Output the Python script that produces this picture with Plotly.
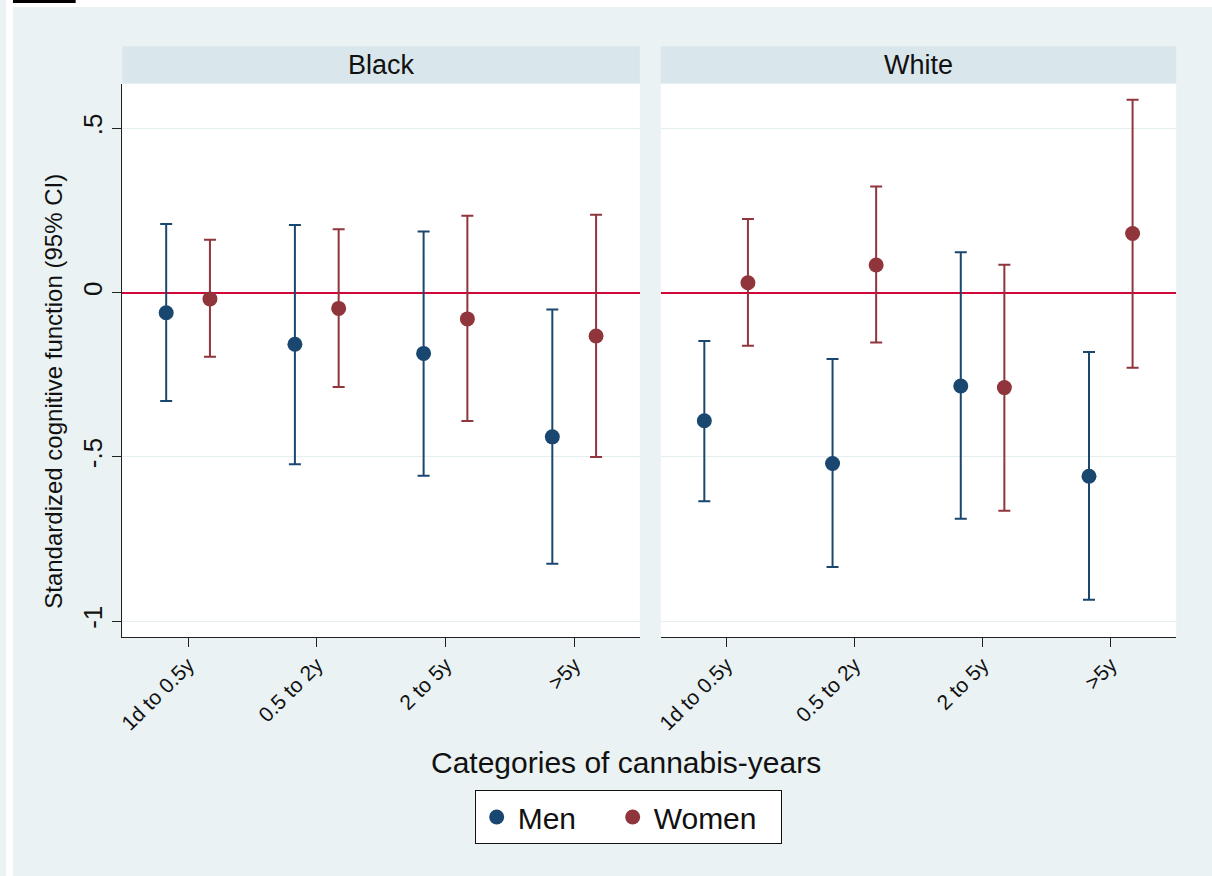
import plotly.graph_objects as go

W, H = 1212, 876

categories = ["1d to 0.5y", "0.5 to 2y", "2 to 5y", ">5y"]
panels = ["Black", "White"]

black_men = [-0.061, -0.157, -0.185, -0.439]
black_men_lo = [-0.330, -0.522, -0.557, -0.825]
black_men_hi = [0.209, 0.206, 0.186, -0.051]
black_women = [-0.019, -0.048, -0.080, -0.132]
black_women_lo = [-0.195, -0.287, -0.391, -0.500]
black_women_hi = [0.161, 0.193, 0.234, 0.237]

white_men = [-0.390, -0.520, -0.284, -0.559]
white_men_lo = [-0.635, -0.835, -0.688, -0.935]
white_men_hi = [-0.147, -0.202, 0.123, -0.181]
white_women = [0.030, 0.084, -0.289, 0.180]
white_women_lo = [-0.162, -0.152, -0.664, -0.229]
white_women_hi = [0.224, 0.323, 0.085, 0.587]

ytick_vals = [-1, -0.5, 0, 0.5]
ytick_text = ["-1", "-.5", "0", ".5"]

MEN = "#1a476f"
WOMEN = "#90353b"
BG = "#eaf2f3"
STRIP = "#d9e6eb"
GRID = "#e4edf0"
REFLINE = "#d1073a"
FONT = "Liberation Sans, Arial, sans-serif"


def px(x):
    return x / W


def py(y):
    return 1 - y / H


x_positions = list(range(1, len(categories) + 1))
OFF = 0.17

fig = go.Figure()

series = [
    ("x", "y", black_men, black_men_lo, black_men_hi, -OFF, MEN, "Men", True, 89),
    ("x", "y", black_women, black_women_lo, black_women_hi, OFF, WOMEN, "Women", True, 122),
    ("x2", "y2", white_men, white_men_lo, white_men_hi, -OFF, MEN, "Men", False, None),
    ("x2", "y2", white_women, white_women_lo, white_women_hi, OFF, WOMEN, "Women", False, None),
]
for xa, ya, est, lo, hi, off, col, name, show, lw in series:
    tr = dict(
        x=[p + off for p in x_positions], y=est,
        xaxis=xa, yaxis=ya, mode="markers", name=name, showlegend=show,
        marker=dict(color=col, size=15, line=dict(width=0)),
        error_y=dict(type="data", symmetric=False,
                     array=[h - e for h, e in zip(hi, est)],
                     arrayminus=[e - l for e, l in zip(est, lo)],
                     color=col, thickness=2, width=6),
    )
    if lw:
        tr["legendwidth"] = lw
    fig.add_trace(go.Scatter(**tr))

# panel geometry (px)
bx0, bx1 = 117, 637
wx0, wx1 = 658, 1176
ytop, ybot = 83.5, 637.3
strip_top = 46.3

common_x = dict(
    range=[0.49, 4.51], tickmode="array", tickvals=x_positions, ticktext=categories,
    tickangle=-45, ticks="outside", ticklen=9, tickcolor="#222", tickwidth=1.3,
    showline=True, linecolor="#222", linewidth=1.3, showgrid=False, zeroline=False,
    tickfont=dict(family=FONT, size=21, color="#111"), ticklabelstandoff=-3,
)
common_y = dict(
    domain=[py(ybot), py(ytop)], range=[-1.049, 0.6365],
    tickmode="array", tickvals=ytick_vals,
    showgrid=True, gridcolor=GRID, gridwidth=1.3,
    zeroline=True, zerolinecolor=REFLINE, zerolinewidth=2,
)
fig.update_layout(
    width=W, height=H,
    margin=dict(l=0, r=0, t=0, b=0),
    paper_bgcolor=BG, plot_bgcolor="white",
    font=dict(family=FONT, color="#111"),
    xaxis=dict(domain=[px(bx0), px(bx1)], anchor="y", **common_x),
    xaxis2=dict(domain=[px(wx0), px(wx1)], anchor="y2", **common_x),
    yaxis=dict(anchor="x", ticktext=ytick_text,
               tickangle=-90, ticks="outside", ticklen=9, tickcolor="#222", tickwidth=1.3,
               showline=True, linecolor="#222", linewidth=1.3,
               tickfont=dict(family=FONT, size=26, color="#111"), **common_y),
    yaxis2=dict(anchor="x2", showticklabels=False, ticks="", showline=False, **common_y),
    legend=dict(orientation="h", x=px(471), xanchor="left", y=py(790), yanchor="top",
                bgcolor="white", bordercolor="#111", borderwidth=1,
                itemwidth=32,
                font=dict(family=FONT, size=30, color="#111")),
    showlegend=True,
)

shapes = []
# white page margin at top/left and black mark at top-left
shapes.append(dict(type="rect", xref="paper", yref="paper", x0=0, x1=1, y0=py(7), y1=1,
                   fillcolor="white", line=dict(width=0), layer="below"))
shapes.append(dict(type="rect", xref="paper", yref="paper", x0=0, x1=px(7), y0=0, y1=1,
                   fillcolor="white", line=dict(width=0), layer="below"))
shapes.append(dict(type="rect", xref="paper", yref="paper", x0=px(7), x1=px(70), y0=py(3), y1=1,
                   fillcolor="black", line=dict(width=0), layer="below"))
# strips
for (x0, x1) in [(bx0, bx1), (wx0, wx1)]:
    shapes.append(dict(type="rect", xref="paper", yref="paper", x0=px(x0), x1=px(x1),
                       y0=py(ytop), y1=py(strip_top), fillcolor=STRIP,
                       line=dict(width=0), layer="below"))
fig.update_layout(shapes=shapes)

annotations = []
for name, (x0, x1) in zip(panels, [(bx0, bx1), (wx0, wx1)]):
    annotations.append(dict(text=name, xref="paper", yref="paper",
                            x=px((x0 + x1) / 2), y=py((strip_top + ytop) / 2),
                            xanchor="center", yanchor="middle", showarrow=False,
                            font=dict(family=FONT, size=27, color="#111")))
annotations.append(dict(text="Standardized cognitive function (95% CI)", xref="paper", yref="paper",
                        x=px(47), y=py(391), xanchor="center", yanchor="middle", textangle=-90,
                        showarrow=False, font=dict(family=FONT, size=24, color="#111")))
annotations.append(dict(text="Categories of cannabis-years", xref="paper", yref="paper",
                        x=px(623.5), y=py(762), xanchor="center", yanchor="middle",
                        showarrow=False, font=dict(family=FONT, size=30, color="#111")))
fig.update_layout(annotations=annotations)

fig.write_html("out.html",
               config={"displayModeBar": False},
               post_script="document.body.style.margin='0px';"
                           "document.body.style.overflow='hidden';")
